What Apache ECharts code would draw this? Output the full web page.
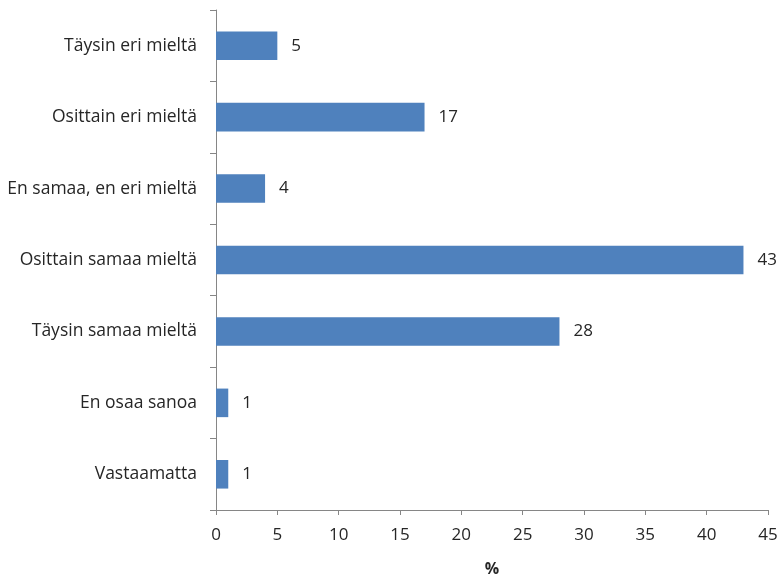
<!DOCTYPE html>
<html>
<head>
<meta charset="utf-8">
<script src="https://cdn.jsdelivr.net/npm/echarts@6/dist/echarts.min.js"></script>
<style>
  html, body { margin: 0; padding: 0; background: #ffffff; }
  #chart { width: 779px; height: 577px; }
</style>
</head>
<body>
<div id="chart"></div>
<script>
// Answer categories, listed bottom to top as the category axis draws them
const categories = [
  'Vastaamatta',
  'En osaa sanoa',
  'Täysin samaa mieltä',
  'Osittain samaa mieltä',
  'En samaa, en eri mieltä',
  'Osittain eri mieltä',
  'Täysin eri mieltä'
];
// Share of respondents, percent
const shares = [1, 1, 28, 43, 4, 17, 5];
// Value axis range and step
const axisMin = 0;
const axisMax = 45;
const axisStep = 5;
const axisTitle = '%';

const textColor = '#262626';
const lineColor = '#868686';
const fontFamily = '"Open Sans", Lato, sans-serif';

const chart = echarts.init(document.getElementById('chart'), null, { renderer: 'canvas' });
chart.setOption({
  animation: false,
  backgroundColor: '#ffffff',
  grid: {
    left: 216, right: 11, top: 10, bottom: 67,
    containLabel: false,
    outerBoundsMode: 'none'
  },
  xAxis: {
    type: 'value',
    min: axisMin,
    max: axisMax,
    interval: axisStep,
    name: axisTitle,
    nameLocation: 'middle',
    nameGap: 51,
    nameTextStyle: { color: textColor, fontFamily: fontFamily, fontSize: 16, fontWeight: 'bold' },
    axisLine: { show: true, lineStyle: { color: lineColor, width: 1 } },
    axisTick: { show: true, length: 5, lineStyle: { color: lineColor } },
    axisLabel: { color: textColor, fontFamily: fontFamily, fontSize: 17, margin: 17 },
    splitLine: { show: false }
  },
  yAxis: {
    type: 'category',
    data: categories,
    axisLine: { show: true, lineStyle: { color: lineColor, width: 1 } },
    axisTick: { show: true, length: 6, alignWithLabel: false, lineStyle: { color: lineColor } },
    axisLabel: { color: textColor, fontFamily: fontFamily, fontSize: 17.5, margin: 19 }
  },
  series: [{
    type: 'bar',
    data: shares,
    barCategoryGap: '60%',
    itemStyle: { color: '#4F81BD' },
    label: {
      show: true,
      position: 'right',
      distance: 14,
      color: textColor,
      fontFamily: fontFamily,
      fontSize: 17
    }
  }]
});
</script>
</body>
</html>
